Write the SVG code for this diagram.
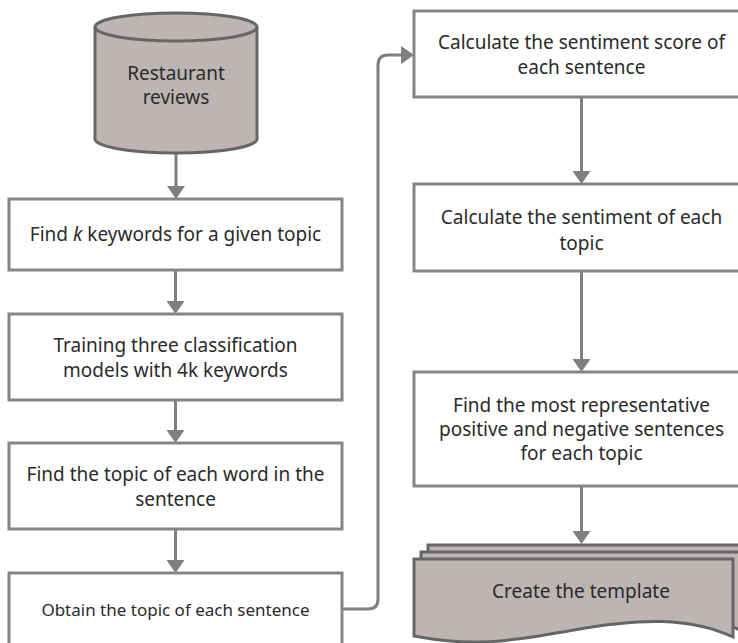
<svg xmlns="http://www.w3.org/2000/svg" width="738" height="643" viewBox="0 0 738 643">
  <style>
    .box { fill: #ffffff; stroke: #858585; stroke-width: 3; }
    .data { fill: #bdb4b4; stroke: #666666; stroke-width: 3; }
    .lbl { font-family: "Noto Sans", "Open Sans", sans-serif; font-size: 19px; fill: #2b2b2b; text-anchor: middle; }
    .small { font-size: 17px; }
    .edge { fill: none; stroke: #7f7f7f; stroke-width: 3; }
  </style>
  <defs>
    <marker id="arrow" markerUnits="userSpaceOnUse" markerWidth="14" markerHeight="20" viewBox="0 -10 14 20" refX="0" refY="0" orient="auto">
      <path d="M0,-9 L13,0 L0,9 Z" fill="#7f7f7f"/>
    </marker>
  </defs>

  <rect width="738" height="643" fill="#ffffff"/>

  <!-- connectors -->
  <g id="connectors">
    <path class="edge" d="M176,153 V186" marker-end="url(#arrow)"/>
    <path class="edge" d="M175.5,270 V301" marker-end="url(#arrow)"/>
    <path class="edge" d="M175.5,400 V430" marker-end="url(#arrow)"/>
    <path class="edge" d="M175.5,529 V560" marker-end="url(#arrow)"/>
    <path class="edge" d="M342,609 H368 Q378,609 378,599 V65 Q378,55 388,55 H401" marker-end="url(#arrow)"/>
    <path class="edge" d="M581.5,97 V171" marker-end="url(#arrow)"/>
    <path class="edge" d="M581.5,271 V359" marker-end="url(#arrow)"/>
    <path class="edge" d="M581.5,486 V531" marker-end="url(#arrow)"/>
  </g>

  <!-- source data store -->
  <g id="reviews">
    <path class="data" d="M95,27 V139 A81,14 0 0 0 257,139 V27 A81,14 0 0 0 95,27 Z"/>
    <path class="data" d="M95,27 A81,14 0 0 0 257,27" fill="none"/>
    <text class="lbl" x="176" y="80">Restaurant</text>
    <text class="lbl" x="176" y="104">reviews</text>
  </g>

  <g id="find-keywords">
    <rect class="box" x="9" y="199" width="333" height="71"/>
    <text class="lbl" x="175.5" y="241">Find <tspan font-style="italic">k</tspan> keywords for a given topic</text>
  </g>

  <g id="train-models">
    <rect class="box" x="9" y="314" width="333" height="86"/>
    <text class="lbl" x="175.5" y="352">Training three classification</text>
    <text class="lbl" x="175.5" y="377">models with 4k keywords</text>
  </g>

  <g id="word-topic">
    <rect class="box" x="9" y="443" width="333" height="86"/>
    <text class="lbl" x="175.5" y="481">Find the topic of each word in the</text>
    <text class="lbl" x="175.5" y="506">sentence</text>
  </g>

  <g id="sentence-topic">
    <rect class="box" x="9" y="573" width="333" height="76"/>
    <text class="lbl small" x="175.5" y="616">Obtain the topic of each sentence</text>
  </g>

  <g id="sentence-score">
    <rect class="box" x="414" y="11" width="336" height="86"/>
    <text class="lbl" x="581.5" y="49">Calculate the sentiment score of</text>
    <text class="lbl" x="581.5" y="74">each sentence</text>
  </g>

  <g id="topic-sentiment">
    <rect class="box" x="414" y="184" width="336" height="87"/>
    <text class="lbl" x="581.5" y="224">Calculate the sentiment of each</text>
    <text class="lbl" x="581.5" y="250">topic</text>
  </g>

  <g id="representative">
    <rect class="box" x="414" y="372" width="336" height="114"/>
    <text class="lbl" x="581.5" y="412">Find the most representative</text>
    <text class="lbl" x="581.5" y="436">positive and negative sentences</text>
    <text class="lbl" x="581.5" y="460">for each topic</text>
  </g>

  <!-- stacked output documents -->
  <g id="template">
    <path class="data" d="M428,545 H747 V623 C704,603 654,604 588,616 C522,628 484,633 428,622 Z"/>
    <path class="data" d="M421,552 H740 V630 C697,610 647,611 581,623 C515,635 477,640 421,629 Z"/>
    <path class="data" d="M414,559 H733 V637 C690,617 640,618 574,630 C508,642 470,647 414,636 Z"/>
    <text class="lbl" x="581" y="598">Create the template</text>
  </g>
</svg>
